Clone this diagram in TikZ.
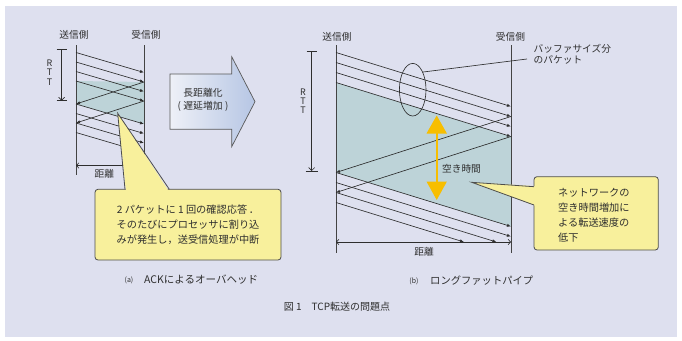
\documentclass[tikz,border=0pt]{standalone}
\usepackage{fontspec}
\setmainfont{Noto Sans CJK JP}
\usetikzlibrary{arrows.meta,shapes.geometric}
\definecolor{bgc}{HTML}{DEE0EF}
\definecolor{shadec}{HTML}{BDD3D8}
\definecolor{ink}{HTML}{2E2E2E}
\definecolor{cyel}{HTML}{F8F09C}
\definecolor{gold}{HTML}{F7BE00}
\definecolor{arrL}{HTML}{EEF0F7}
\definecolor{arrR}{HTML}{B6C6E4}
\begin{document}
\begin{tikzpicture}[x=1pt,y=-1pt,
  thin line/.style={draw=ink, line width=0.65pt},
  axisline/.style={draw=ink!90, line width=0.9pt},
  pkt/.style={thin line, -{Latex[length=4pt,width=3.2pt]}},
  dimline/.style={thin line, {Straight Barb[length=2.5pt,width=5.5pt]}-{Straight Barb[length=2.5pt,width=5.5pt]}},
  lbl/.style={font=\fontsize{9.7}{11}\selectfont, text=ink, inner sep=0pt},
  cbox/.style={draw=ink!85, line width=0.8pt, fill=cyel, rounded corners=3pt, inner sep=0pt},
  cedge/.style={draw=ink!85, line width=0.8pt}]

\useasboundingbox (0,0) rectangle (682,340);
\fill[white] (0,0) rectangle (682,340);
\fill[bgc] (5,6) rectangle (677,337);

%================ (a) left diagram =================
\fill[shadec] (76,81) -- (144,82) -- (144,124) -- (76,104) -- cycle;

\coordinate (aStop) at (76,45);
\coordinate (aSbot) at (76,175);
\coordinate (aRtop) at (144,45);
\coordinate (aRbot) at (144,175);
\draw[axisline] (aStop) -- (aSbot);
\draw[axisline] (aRtop) -- (aRbot);
\node[lbl] (aSl) at (74,35) {送信側};
\node[lbl] (aRl) at (146,35) {受信側};

% RTT
\coordinate (aTt) at (61.7,49.3);
\coordinate (aTb) at (61.7,100.7);
\draw[thin line] ([xshift=-5pt]aTt) -- ([xshift=5pt]aTt);
\draw[thin line] ([xshift=-5pt]aTb) -- ([xshift=5pt]aTb);
\draw[thin line, -{Straight Barb[length=3pt,width=6pt]}] (aTt) -- (aTb);
\node[lbl, align=center, font=\fontsize{9}{9.5}\selectfont] (aRTT) at (49.5,72.5) {R\\T\\T};

% packets
\foreach \i/\y in {1/52.5,2/62,3/71.5,4/81,5/104,6/113.5,7/123,8/132.5}{
  \coordinate (aS\i) at (76,\y);
  \coordinate (aR\i) at (144,\y+20);
  \draw[pkt] (aS\i) -- (aR\i);
}
% ACKs
\coordinate (aK1r) at (144,82);
\coordinate (aK1s) at (76,104);
\coordinate (aK2r) at (144,101);
\coordinate (aK2s) at (76,123);
\draw[pkt] (aK1r) -- (aK1s);
\draw[pkt] (aK2r) -- (aK2s);

% distance
\coordinate (aDl) at (76,165.5);
\coordinate (aDr) at (144,165.5);
\draw[dimline] (aDl) -- (aDr);
\node[lbl] (aDist) at (104.3,173.5) {距離};

% callout (a)
\coordinate (cAtip) at (117.7,113.3);
\coordinate (cAb1) at (125,189.3);
\coordinate (cAb2) at (169.3,189.3);
\node[cbox, minimum width=186pt, minimum height=70.7pt] (cA) at (188,224.65) {};
\fill[cyel] ([xshift=0.9pt,yshift=-1.2pt]cAb1) -- (cAtip) -- ([xshift=-0.9pt,yshift=-1.2pt]cAb2) -- cycle;
\draw[cedge] (cAb1) -- (cAtip) -- (cAb2);
\node[lbl, align=center, font=\fontsize{10.2}{14.65}\selectfont] (cAt) at (cA) {2 パケットに 1 回の確認応答\,．\\そのたびにプロセッサに割り込\\みが発生し，送受信処理が中断};

% captions
\node[lbl, font=\fontsize{7}{8}\selectfont] (capAl) at (129,280.5) {(a)};
\node[lbl, anchor=west, font=\fontsize{10.5}{12}\selectfont] (capA) at (144,280) {ACKによるオーバヘッド};

%================ big arrow =================
\shadedraw[left color=arrL, right color=arrR, draw=ink!80, line width=0.7pt]
  (170,74) -- (231.7,74) -- (231.7,56.7) -- (255,101.7) -- (231.7,146.7) -- (231.7,129.3) -- (170,129.3) -- cycle;
\node[lbl, align=center, font=\fontsize{9.8}{13}\selectfont] (bigA) at (203,99.5) {長距離化\\(\hspace{2.5pt}遅延増加\hspace{2.5pt})};

%================ (b) right diagram =================
\fill[shadec] (336,82.5) -- (511,136.5) -- (511,226.5) -- (336,172.5) -- cycle;

\coordinate (bStop) at (336,45);
\coordinate (bSbot) at (336,253);
\coordinate (bRtop) at (511,45);
\coordinate (bRbot) at (511,253);
\draw[axisline] (bStop) -- (bSbot);
\draw[axisline] (bRtop) -- (bRbot);
\node[lbl] (bSl) at (337,36.5) {送信側};
\node[lbl] (bRl) at (510.5,36.5) {受信側};

% RTT
\coordinate (bTt) at (311.7,51.7);
\coordinate (bTb) at (311.7,171);
\draw[thin line] ([xshift=-5pt]bTt) -- ([xshift=5pt]bTt);
\draw[thin line] ([xshift=-6pt]bTb) -- ([xshift=6pt]bTb);
\draw[thin line, -{Straight Barb[length=3pt,width=6pt]}] (bTt) -- (bTb);
\node[lbl, align=center, font=\fontsize{9}{9}\selectfont] (bRTT) at (303,101) {R\\T\\T};

% packets
\foreach \i/\y in {1/52.5,2/62.5,3/72.5,4/82.5,5/172.5,6/182.5}{
  \coordinate (bS\i) at (336,\y);
  \coordinate (bR\i) at (511,\y+54);
  \draw[pkt] (bS\i) -- (bR\i);
}
\coordinate (bS7) at (336,192.5);
\coordinate (bE7) at (496.4,242);
\coordinate (bS8) at (336,202.5);
\coordinate (bE8) at (464,242);
\draw[pkt] (bS7) -- (bE7);
\draw[pkt] (bS8) -- (bE8);

% ACKs
\coordinate (bK1r) at (511,116.5);
\coordinate (bK1s) at (336,172.5);
\coordinate (bK2r) at (511,136.5);
\coordinate (bK2s) at (336,192.5);
\draw[pkt] (bK1r) -- (bK1s);
\draw[pkt] (bK2r) -- (bK2s);

% distance
\coordinate (bDl) at (336,242);
\coordinate (bDr) at (511,242);
\draw[dimline] (bDl) -- (bDr);
\node[lbl] (bDist) at (424,252) {距離};

% buffer ellipse
\node[ellipse, draw=ink, line width=0.65pt, minimum width=26.6pt, minimum height=52.6pt, inner sep=0pt] (buf) at (412.7,89.7) {};
\coordinate (bufEnd) at (527,59);
\draw[thin line] (buf.60) -- (bufEnd);
\node[lbl, align=left, anchor=west, font=\fontsize{9.7}{11}\selectfont] (bufT) at (533.5,53.8) {バッファサイズ分\\のパケット};

% gap arrow
\coordinate (gTop) at (436.7,115.5);
\coordinate (gBot) at (436.7,200);
\draw[draw=gold, line width=1.6pt, {Triangle[length=18pt,width=20pt]}-{Triangle[length=18.5pt,width=20pt]}] (gTop) -- (gBot);
\node[lbl] (gapL) at (461.5,169) {空き時間};

% callout (b)
\coordinate (cBtip) at (471.7,182.3);
\coordinate (cBb1) at (534,186.7);
\coordinate (cBb2) at (534,205);
\node[cbox, minimum width=124.3pt, minimum height=73.3pt] (cB) at (596.15,213.35) {};
\fill[cyel] ([xshift=1.2pt,yshift=0.6pt]cBb1) -- (cBtip) -- ([xshift=1.2pt,yshift=-0.6pt]cBb2) -- cycle;
\draw[cedge] (cBb1) -- (cBtip) -- (cBb2);
\node[lbl, align=left, anchor=west, font=\fontsize{10.2}{14.9}\selectfont] (cBt) at (558,215) {ネットワークの\\空き時間増加に\\よる転送速度の\\低下};

% captions
\node[lbl, font=\fontsize{7}{8}\selectfont] (capBl) at (414,281) {(b)};
\node[lbl, anchor=west, font=\fontsize{10.3}{12}\selectfont] (capB) at (430,281) {ロングファットパイプ};

\node[lbl, font=\fontsize{10}{12}\selectfont] (fig) at (337,307) {図 1\quad TCP転送の問題点};
\end{tikzpicture}
\end{document}
